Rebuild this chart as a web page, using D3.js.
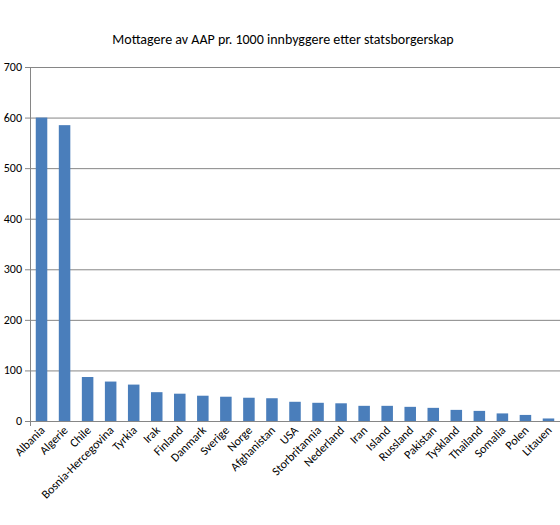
<!DOCTYPE html>
<html><head><meta charset="utf-8">
<script src="https://cdn.jsdelivr.net/npm/d3@7"></script>
<style>body{margin:0;background:#fff}text{font-family:Calibri,Carlito,"Liberation Sans",Arial,sans-serif}</style>
</head><body><svg id="c" width="560" height="525"></svg>
<script>
const categories=["Albania","Algerie","Chile","Bosnia-Hercegovina","Tyrkia","Irak","Finland","Danmark","Sverige","Norge","Afghanistan","USA","Storbritannia","Nederland","Iran","Island","Russland","Pakistan","Tyskland","Thailand","Somalia","Polen","Litauen"];
const values=[600,585,87,78,72,57,54,50,48,46,45,38,36,35,30,30,28,26,22,20,15,12,5];
const yTicks=[0,100,200,300,400,500,600,700];
const svg=d3.select("#c");
const L=30,R=560,T=67,B=421;
const x=d3.scaleBand().domain(categories).range([L,R]).paddingInner(0.5).paddingOuter(0.25);
const y=d3.scaleLinear().domain([0,700]).range([B,T]);
svg.append("text").attr("x",283).attr("y",44).attr("text-anchor","middle").attr("font-size",14).text("Mottagere av AAP pr. 1000 innbyggere etter statsborgerskap");
svg.selectAll("line.g").data(yTicks).join("line").attr("x1",L).attr("x2",R).attr("y1",d=>y(d)+0.5).attr("y2",d=>y(d)+0.5).attr("stroke","#868686");
svg.append("line").attr("x1",L+0.5).attr("x2",L+0.5).attr("y1",T).attr("y2",B+5).attr("stroke","#868686");
svg.selectAll("line.t").data(yTicks).join("line").attr("x1",L-5).attr("x2",L).attr("y1",d=>y(d)+0.5).attr("y2",d=>y(d)+0.5).attr("stroke","#868686");
svg.selectAll("text.y").data(yTicks).join("text").attr("x",L-8).attr("y",d=>y(d)+4).attr("text-anchor","end").attr("font-size",12).text(d=>d);
svg.selectAll("rect").data(values).join("rect").attr("x",(d,i)=>x(categories[i])).attr("width",x.bandwidth()).attr("y",d=>y(d)).attr("height",d=>B-y(d)).attr("fill","#4a7ebb");
svg.selectAll("text.x").data(categories).join("text").attr("font-size",12).attr("text-anchor","end")
 .attr("transform",d=>`translate(${x(d)+x.bandwidth()/2+4},${B+10}) rotate(-45)`).text(d=>d);
</script></body></html>
